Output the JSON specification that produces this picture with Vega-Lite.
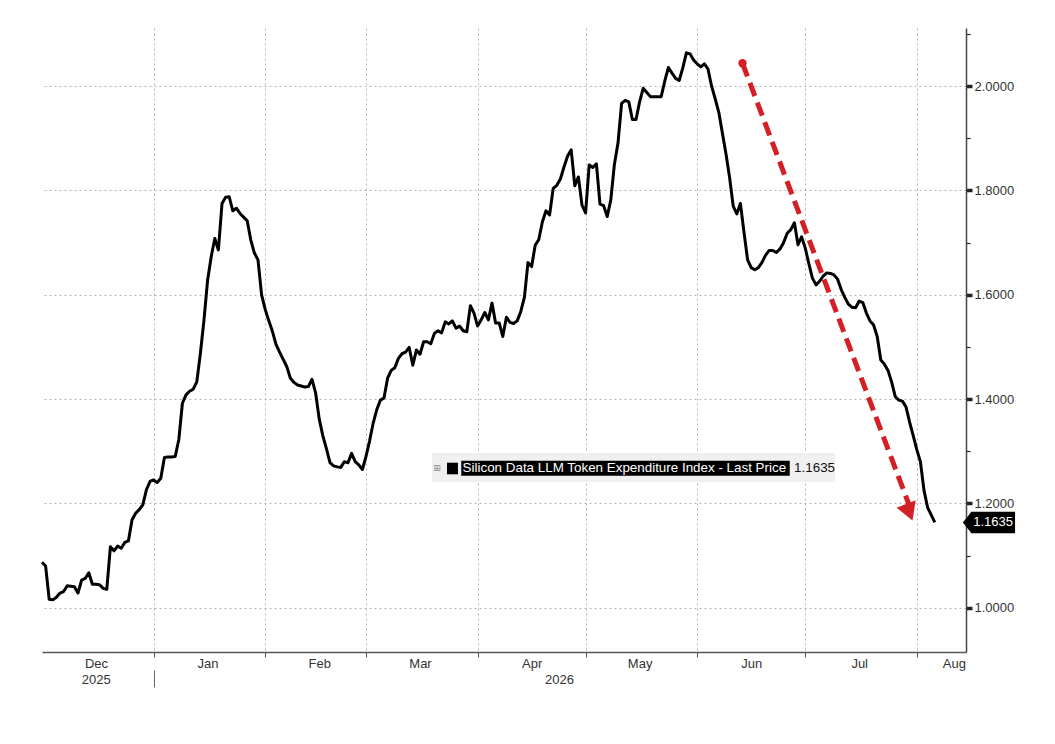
{
  "$schema": "https://vega.github.io/schema/vega-lite/v6.json",
  "width": 924,
  "height": 624,
  "padding": {"left": 40, "top": 28, "right": 0, "bottom": 0},
  "background": "white",
  "config": {
    "view": {"stroke": null},
    "font": "Liberation Sans",
    "axis": {"labelFont": "Liberation Sans", "labelFontSize": 13, "labelColor": "#333333"}
  },
  "datasets": {
    "series": [
      {"date": "2025-12-01", "value": 1.087}, {"date": "2025-12-02", "value": 1.080}, {"date": "2025-12-03", "value": 1.016},
      {"date": "2025-12-04", "value": 1.015}, {"date": "2025-12-05", "value": 1.020}, {"date": "2025-12-06", "value": 1.028},
      {"date": "2025-12-07", "value": 1.031}, {"date": "2025-12-08", "value": 1.042}, {"date": "2025-12-09", "value": 1.041},
      {"date": "2025-12-10", "value": 1.040}, {"date": "2025-12-11", "value": 1.028}, {"date": "2025-12-12", "value": 1.053},
      {"date": "2025-12-13", "value": 1.056}, {"date": "2025-12-14", "value": 1.067}, {"date": "2025-12-15", "value": 1.045},
      {"date": "2025-12-16", "value": 1.045}, {"date": "2025-12-17", "value": 1.044}, {"date": "2025-12-18", "value": 1.037},
      {"date": "2025-12-19", "value": 1.035}, {"date": "2025-12-20", "value": 1.117}, {"date": "2025-12-21", "value": 1.109},
      {"date": "2025-12-22", "value": 1.118}, {"date": "2025-12-23", "value": 1.114}, {"date": "2025-12-24", "value": 1.125},
      {"date": "2025-12-25", "value": 1.128}, {"date": "2025-12-26", "value": 1.168}, {"date": "2025-12-27", "value": 1.181},
      {"date": "2025-12-28", "value": 1.188}, {"date": "2025-12-29", "value": 1.197}, {"date": "2025-12-30", "value": 1.226},
      {"date": "2025-12-31", "value": 1.242},
      {"date": "2026-01-01", "value": 1.245}, {"date": "2026-01-02", "value": 1.240}, {"date": "2026-01-03", "value": 1.248},
      {"date": "2026-01-04", "value": 1.288}, {"date": "2026-01-05", "value": 1.289}, {"date": "2026-01-06", "value": 1.289},
      {"date": "2026-01-07", "value": 1.290}, {"date": "2026-01-08", "value": 1.322}, {"date": "2026-01-09", "value": 1.392},
      {"date": "2026-01-10", "value": 1.408}, {"date": "2026-01-11", "value": 1.415}, {"date": "2026-01-12", "value": 1.419},
      {"date": "2026-01-13", "value": 1.433}, {"date": "2026-01-14", "value": 1.488}, {"date": "2026-01-15", "value": 1.552},
      {"date": "2026-01-16", "value": 1.628}, {"date": "2026-01-17", "value": 1.673}, {"date": "2026-01-18", "value": 1.708},
      {"date": "2026-01-19", "value": 1.686}, {"date": "2026-01-20", "value": 1.775}, {"date": "2026-01-21", "value": 1.787},
      {"date": "2026-01-22", "value": 1.788}, {"date": "2026-01-23", "value": 1.761}, {"date": "2026-01-24", "value": 1.766},
      {"date": "2026-01-25", "value": 1.756}, {"date": "2026-01-26", "value": 1.749}, {"date": "2026-01-27", "value": 1.742},
      {"date": "2026-01-28", "value": 1.705}, {"date": "2026-01-29", "value": 1.680}, {"date": "2026-01-30", "value": 1.667},
      {"date": "2026-01-31", "value": 1.600},
      {"date": "2026-02-01", "value": 1.572}, {"date": "2026-02-02", "value": 1.550}, {"date": "2026-02-03", "value": 1.530},
      {"date": "2026-02-04", "value": 1.505}, {"date": "2026-02-05", "value": 1.490}, {"date": "2026-02-06", "value": 1.476},
      {"date": "2026-02-07", "value": 1.462}, {"date": "2026-02-08", "value": 1.440}, {"date": "2026-02-09", "value": 1.432},
      {"date": "2026-02-10", "value": 1.427}, {"date": "2026-02-11", "value": 1.425}, {"date": "2026-02-12", "value": 1.423},
      {"date": "2026-02-13", "value": 1.424}, {"date": "2026-02-14", "value": 1.438}, {"date": "2026-02-15", "value": 1.412},
      {"date": "2026-02-16", "value": 1.362}, {"date": "2026-02-17", "value": 1.330}, {"date": "2026-02-18", "value": 1.305},
      {"date": "2026-02-19", "value": 1.278}, {"date": "2026-02-20", "value": 1.272}, {"date": "2026-02-21", "value": 1.270},
      {"date": "2026-02-22", "value": 1.269}, {"date": "2026-02-23", "value": 1.280}, {"date": "2026-02-24", "value": 1.278},
      {"date": "2026-02-25", "value": 1.296}, {"date": "2026-02-26", "value": 1.280}, {"date": "2026-02-27", "value": 1.274},
      {"date": "2026-02-28", "value": 1.265},
      {"date": "2026-03-01", "value": 1.290}, {"date": "2026-03-02", "value": 1.320}, {"date": "2026-03-03", "value": 1.354},
      {"date": "2026-03-04", "value": 1.380}, {"date": "2026-03-05", "value": 1.398}, {"date": "2026-03-06", "value": 1.402},
      {"date": "2026-03-07", "value": 1.440}, {"date": "2026-03-08", "value": 1.455}, {"date": "2026-03-09", "value": 1.460},
      {"date": "2026-03-10", "value": 1.478}, {"date": "2026-03-11", "value": 1.487}, {"date": "2026-03-12", "value": 1.490},
      {"date": "2026-03-13", "value": 1.499}, {"date": "2026-03-14", "value": 1.465}, {"date": "2026-03-15", "value": 1.494},
      {"date": "2026-03-16", "value": 1.486}, {"date": "2026-03-17", "value": 1.510}, {"date": "2026-03-18", "value": 1.510},
      {"date": "2026-03-19", "value": 1.506}, {"date": "2026-03-20", "value": 1.526}, {"date": "2026-03-21", "value": 1.531},
      {"date": "2026-03-22", "value": 1.527}, {"date": "2026-03-23", "value": 1.548}, {"date": "2026-03-24", "value": 1.544},
      {"date": "2026-03-25", "value": 1.550}, {"date": "2026-03-26", "value": 1.536}, {"date": "2026-03-27", "value": 1.540},
      {"date": "2026-03-28", "value": 1.531}, {"date": "2026-03-29", "value": 1.529}, {"date": "2026-03-30", "value": 1.579},
      {"date": "2026-03-31", "value": 1.565},
      {"date": "2026-04-01", "value": 1.540}, {"date": "2026-04-02", "value": 1.552}, {"date": "2026-04-03", "value": 1.566},
      {"date": "2026-04-04", "value": 1.552}, {"date": "2026-04-05", "value": 1.584}, {"date": "2026-04-06", "value": 1.546},
      {"date": "2026-04-07", "value": 1.546}, {"date": "2026-04-08", "value": 1.520}, {"date": "2026-04-09", "value": 1.557},
      {"date": "2026-04-10", "value": 1.547}, {"date": "2026-04-11", "value": 1.545}, {"date": "2026-04-12", "value": 1.550},
      {"date": "2026-04-13", "value": 1.568}, {"date": "2026-04-14", "value": 1.595}, {"date": "2026-04-15", "value": 1.662},
      {"date": "2026-04-16", "value": 1.654}, {"date": "2026-04-17", "value": 1.695}, {"date": "2026-04-18", "value": 1.706},
      {"date": "2026-04-19", "value": 1.740}, {"date": "2026-04-20", "value": 1.761}, {"date": "2026-04-21", "value": 1.753},
      {"date": "2026-04-22", "value": 1.804}, {"date": "2026-04-23", "value": 1.810}, {"date": "2026-04-24", "value": 1.822},
      {"date": "2026-04-25", "value": 1.845}, {"date": "2026-04-26", "value": 1.866}, {"date": "2026-04-27", "value": 1.878},
      {"date": "2026-04-28", "value": 1.809}, {"date": "2026-04-29", "value": 1.826}, {"date": "2026-04-30", "value": 1.772},
      {"date": "2026-05-01", "value": 1.757}, {"date": "2026-05-02", "value": 1.849}, {"date": "2026-05-03", "value": 1.844},
      {"date": "2026-05-04", "value": 1.851}, {"date": "2026-05-05", "value": 1.774}, {"date": "2026-05-06", "value": 1.771},
      {"date": "2026-05-07", "value": 1.750}, {"date": "2026-05-08", "value": 1.782}, {"date": "2026-05-09", "value": 1.850},
      {"date": "2026-05-10", "value": 1.891}, {"date": "2026-05-11", "value": 1.967}, {"date": "2026-05-12", "value": 1.973},
      {"date": "2026-05-13", "value": 1.970}, {"date": "2026-05-14", "value": 1.936}, {"date": "2026-05-15", "value": 1.936},
      {"date": "2026-05-16", "value": 1.970}, {"date": "2026-05-17", "value": 1.996}, {"date": "2026-05-18", "value": 1.988},
      {"date": "2026-05-19", "value": 1.980}, {"date": "2026-05-20", "value": 1.980}, {"date": "2026-05-21", "value": 1.980},
      {"date": "2026-05-22", "value": 1.980}, {"date": "2026-05-23", "value": 2.010}, {"date": "2026-05-24", "value": 2.036},
      {"date": "2026-05-25", "value": 2.025}, {"date": "2026-05-26", "value": 2.015}, {"date": "2026-05-27", "value": 2.011},
      {"date": "2026-05-28", "value": 2.035}, {"date": "2026-05-29", "value": 2.064}, {"date": "2026-05-30", "value": 2.062},
      {"date": "2026-05-31", "value": 2.050},
      {"date": "2026-06-01", "value": 2.043}, {"date": "2026-06-02", "value": 2.037}, {"date": "2026-06-03", "value": 2.043},
      {"date": "2026-06-04", "value": 2.033}, {"date": "2026-06-05", "value": 2.000}, {"date": "2026-06-06", "value": 1.976},
      {"date": "2026-06-07", "value": 1.950}, {"date": "2026-06-08", "value": 1.910}, {"date": "2026-06-09", "value": 1.870},
      {"date": "2026-06-10", "value": 1.825}, {"date": "2026-06-11", "value": 1.770}, {"date": "2026-06-12", "value": 1.755},
      {"date": "2026-06-13", "value": 1.775}, {"date": "2026-06-14", "value": 1.720}, {"date": "2026-06-15", "value": 1.667},
      {"date": "2026-06-16", "value": 1.652}, {"date": "2026-06-17", "value": 1.648}, {"date": "2026-06-18", "value": 1.652},
      {"date": "2026-06-19", "value": 1.662}, {"date": "2026-06-20", "value": 1.676}, {"date": "2026-06-21", "value": 1.685},
      {"date": "2026-06-22", "value": 1.685}, {"date": "2026-06-23", "value": 1.681}, {"date": "2026-06-24", "value": 1.688},
      {"date": "2026-06-25", "value": 1.700}, {"date": "2026-06-26", "value": 1.718}, {"date": "2026-06-27", "value": 1.725},
      {"date": "2026-06-28", "value": 1.738}, {"date": "2026-06-29", "value": 1.696}, {"date": "2026-06-30", "value": 1.711},
      {"date": "2026-07-01", "value": 1.690}, {"date": "2026-07-02", "value": 1.660}, {"date": "2026-07-03", "value": 1.632},
      {"date": "2026-07-04", "value": 1.619}, {"date": "2026-07-05", "value": 1.626}, {"date": "2026-07-06", "value": 1.636},
      {"date": "2026-07-07", "value": 1.642}, {"date": "2026-07-08", "value": 1.641}, {"date": "2026-07-09", "value": 1.638},
      {"date": "2026-07-10", "value": 1.630}, {"date": "2026-07-11", "value": 1.610}, {"date": "2026-07-12", "value": 1.595},
      {"date": "2026-07-13", "value": 1.582}, {"date": "2026-07-14", "value": 1.576}, {"date": "2026-07-15", "value": 1.575},
      {"date": "2026-07-16", "value": 1.588}, {"date": "2026-07-17", "value": 1.585}, {"date": "2026-07-18", "value": 1.565},
      {"date": "2026-07-19", "value": 1.550}, {"date": "2026-07-20", "value": 1.542}, {"date": "2026-07-21", "value": 1.520},
      {"date": "2026-07-22", "value": 1.475}, {"date": "2026-07-23", "value": 1.467}, {"date": "2026-07-24", "value": 1.455},
      {"date": "2026-07-25", "value": 1.433}, {"date": "2026-07-26", "value": 1.405}, {"date": "2026-07-27", "value": 1.398},
      {"date": "2026-07-28", "value": 1.396}, {"date": "2026-07-29", "value": 1.385}, {"date": "2026-07-30", "value": 1.356},
      {"date": "2026-07-31", "value": 1.330},
      {"date": "2026-08-01", "value": 1.303}, {"date": "2026-08-02", "value": 1.280}, {"date": "2026-08-03", "value": 1.225},
      {"date": "2026-08-04", "value": 1.192}, {"date": "2026-08-05", "value": 1.178}, {"date": "2026-08-06", "value": 1.1635}
    ],
    "arrow": [
      {"date": "2026-06-13T14:00:00Z", "value": 2.044},
      {"date": "2026-07-29T18:00:00Z", "value": 1.199}
    ],
    "arrowStart": [{"date": "2026-06-13T14:00:00Z", "value": 2.044}],
    "arrowHead": [{"date": "2026-07-29T22:00:00Z", "value": 1.183}],
    "legendBox": [{"date": "2026-03-19T08:00:00Z", "date2": "2026-07-09T07:00:00Z", "value": 1.2966, "value2": 1.2410}],
    "legendDark": [
      {"date": "2026-03-27T11:00:00Z", "date2": "2026-06-26T17:00:00Z", "value": 1.2819, "value2": 1.2531},
      {"date": "2026-03-23T12:00:00Z", "date2": "2026-03-26T13:00:00Z", "value": 1.2780, "value2": 1.2558}
    ],
    "legendName": [{"date": "2026-03-27T20:00:00Z", "value": 1.2675, "label": "Silicon Data LLM Token Expenditure Index - Last Price"}],
    "legendValue": [{"date": "2026-06-27T22:00:00Z", "value": 1.2675, "label": "1.1635"}],
    "legendIcon": [{"date": "2026-03-20T17:00:00Z", "value": 1.2675, "label": "⊞"}],
    "tagBox": [{"date": "2026-08-16T01:00:00Z", "date2": "2026-08-28T07:00:00Z", "value": 1.1841, "value2": 1.1427}],
    "tagPoint": [{"date": "2026-08-14T23:00:00Z", "value": 1.1635}],
    "tagText": [{"date": "2026-08-22T05:00:00Z", "value": 1.1635, "label": "1.1635"}]
  },
  "resolve": {"axis": {"x": "independent", "y": "independent"}},
  "layer": [
    {
      "data": {"name": "legendBox"},
      "mark": {"type": "rect", "color": "#f0f0f0"},
      "encoding": {
        "x": {"field": "date", "type": "temporal", "scale": {"type": "utc"}, "axis": null},
        "x2": {"field": "date2"},
        "y": {"field": "value", "type": "quantitative", "axis": null},
        "y2": {"field": "value2"}
      }
    },
    {
      "data": {"name": "legendDark"},
      "mark": {"type": "rect", "color": "#000000"},
      "encoding": {
        "x": {"field": "date", "type": "temporal", "scale": {"type": "utc"}, "axis": null},
        "x2": {"field": "date2"},
        "y": {"field": "value", "type": "quantitative", "axis": null},
        "y2": {"field": "value2"}
      }
    },
    {
      "data": {"name": "legendName"},
      "mark": {"type": "text", "align": "left", "baseline": "middle", "font": "Liberation Sans", "fontSize": 13.4, "color": "white"},
      "encoding": {
        "x": {"field": "date", "type": "temporal", "scale": {"type": "utc"}, "axis": null},
        "y": {"field": "value", "type": "quantitative", "axis": null},
        "text": {"field": "label"}
      }
    },
    {
      "data": {"name": "legendValue"},
      "mark": {"type": "text", "align": "left", "baseline": "middle", "font": "Liberation Sans", "fontSize": 13.4, "color": "#111111"},
      "encoding": {
        "x": {"field": "date", "type": "temporal", "scale": {"type": "utc"}, "axis": null},
        "y": {"field": "value", "type": "quantitative", "axis": null},
        "text": {"field": "label"}
      }
    },
    {
      "data": {"name": "legendIcon"},
      "mark": {"type": "text", "align": "center", "baseline": "middle", "font": "DejaVu Sans", "fontSize": 9, "color": "#888888"},
      "encoding": {
        "x": {"field": "date", "type": "temporal", "scale": {"type": "utc"}, "axis": null},
        "y": {"field": "value", "type": "quantitative", "axis": null},
        "text": {"field": "label"}
      }
    },
    {
      "data": {"name": "series"},
      "mark": {"type": "line", "color": "#000000", "strokeWidth": 3, "strokeJoin": "round"},
      "encoding": {
        "x": {
          "field": "date",
          "type": "temporal",
          "scale": {
            "type": "utc",
            "nice": false,
            "domain": [
              {"year": 2025, "month": 12, "date": 1, "utc": true},
              {"year": 2026, "month": 8, "date": 14, "hours": 16, "utc": true}
            ]
          },
          "axis": {
            "orient": "bottom",
            "title": null,
            "values": [
              {"year": 2025, "month": 12, "date": 1, "utc": true},
              {"year": 2026, "month": 1, "date": 1, "utc": true},
              {"year": 2026, "month": 2, "date": 1, "utc": true},
              {"year": 2026, "month": 3, "date": 1, "utc": true},
              {"year": 2026, "month": 4, "date": 1, "utc": true},
              {"year": 2026, "month": 5, "date": 1, "utc": true},
              {"year": 2026, "month": 6, "date": 1, "utc": true},
              {"year": 2026, "month": 7, "date": 1, "utc": true},
              {"year": 2026, "month": 8, "date": 1, "utc": true}
            ],
            "labelExpr": "utcFormat(datum.value, '%b')",
            "labelAlign": "center",
            "labelOffset": {"condition": {"test": "utcmonth(datum.value) == 7", "value": 37}, "value": 54},
            "labelFlush": false,
            "labelOverlap": false,
            "labelBound": false,
            "labelPadding": 0,
            "tickSize": 5,
            "tickColor": "#555555",
            "tickOpacity": {"condition": {"test": "utcmonth(datum.value) == 11", "value": 0}, "value": 1},
            "grid": true,
            "gridColor": "#b3b3b3",
            "gridDash": [2, 3],
            "gridOpacity": {"condition": {"test": "utcmonth(datum.value) == 11", "value": 0}, "value": 1},
            "domainColor": "#555555",
            "domainWidth": 1.5
          }
        },
        "y": {
          "field": "value",
          "type": "quantitative",
          "scale": {"domain": [0.915, 2.1116], "nice": false, "zero": false},
          "axis": {
            "orient": "right",
            "title": null,
            "values": [1.0, 1.1, 1.2, 1.3, 1.4, 1.5, 1.6, 1.7, 1.8, 1.9, 2.0, 2.1],
            "labelExpr": "round(datum.value * 10) % 2 == 0 ? format(datum.value, '.4f') : ''",
            "labelPadding": 2,
            "labelFlush": false,
            "tickColor": "#222222",
            "tickSize": {"condition": {"test": "round(datum.value * 10) % 2 == 1", "value": 4}, "value": 6},
            "tickWidth": {"condition": {"test": "round(datum.value * 10) % 2 == 1", "value": 1.2}, "value": 3.5},
            "grid": true,
            "gridColor": "#b3b3b3",
            "gridDash": [2, 3],
            "gridOpacity": {"condition": {"test": "round(datum.value * 10) % 2 == 1", "value": 0}, "value": 1},
            "domainColor": "#444444",
            "domainWidth": 1.5
          }
        }
      }
    },
    {
      "data": {"name": "arrow"},
      "mark": {"type": "line", "color": "#d41f26", "strokeWidth": 5, "strokeDash": [14, 7], "strokeCap": "butt"},
      "encoding": {
        "x": {
          "field": "date",
          "type": "temporal",
          "scale": {"type": "utc"},
          "axis": {
            "orient": "bottom",
            "title": null,
            "offset": 18,
            "values": [
              {"year": 2025, "month": 12, "date": 15, "hours": 22, "utc": true},
              {"year": 2026, "month": 1, "date": 1, "utc": true},
              {"year": 2026, "month": 4, "date": 23, "hours": 14, "utc": true}
            ],
            "labelExpr": "utcmonth(datum.value) == 0 ? '' : utcFormat(datum.value, '%Y')",
            "labelAlign": "center",
            "labelFlush": false,
            "labelOverlap": false,
            "labelBound": false,
            "labelPadding": -14,
            "domain": false,
            "grid": false,
            "tickSize": 17,
            "tickColor": "#666666",
            "tickOpacity": {"condition": {"test": "utcmonth(datum.value) == 0", "value": 1}, "value": 0}
          }
        },
        "y": {"field": "value", "type": "quantitative", "axis": null}
      }
    },
    {
      "data": {"name": "arrowStart"},
      "mark": {"type": "point", "shape": "circle", "filled": true, "opacity": 1, "color": "#d41f26", "size": 70},
      "encoding": {
        "x": {"field": "date", "type": "temporal", "scale": {"type": "utc"}, "axis": null},
        "y": {"field": "value", "type": "quantitative", "axis": null}
      }
    },
    {
      "data": {"name": "arrowHead"},
      "mark": {"type": "point", "shape": "triangle-down", "angle": 339, "filled": true, "opacity": 1, "color": "#d41f26", "size": 420},
      "encoding": {
        "x": {"field": "date", "type": "temporal", "scale": {"type": "utc"}, "axis": null},
        "y": {"field": "value", "type": "quantitative", "axis": null}
      }
    },
    {
      "data": {"name": "tagBox"},
      "mark": {"type": "rect", "color": "#000000"},
      "encoding": {
        "x": {"field": "date", "type": "temporal", "scale": {"type": "utc"}, "axis": null},
        "x2": {"field": "date2"},
        "y": {"field": "value", "type": "quantitative", "axis": null},
        "y2": {"field": "value2"}
      }
    },
    {
      "data": {"name": "tagPoint"},
      "mark": {"type": "point", "shape": "M 0.4 -1 L -0.4 0 L 0.4 1 Z", "filled": true, "opacity": 1, "color": "#000000", "size": 441},
      "encoding": {
        "x": {"field": "date", "type": "temporal", "scale": {"type": "utc"}, "axis": null},
        "y": {"field": "value", "type": "quantitative", "axis": null}
      }
    },
    {
      "data": {"name": "tagText"},
      "mark": {"type": "text", "align": "center", "baseline": "middle", "font": "Liberation Sans", "fontSize": 13, "color": "white"},
      "encoding": {
        "x": {"field": "date", "type": "temporal", "scale": {"type": "utc"}, "axis": null},
        "y": {"field": "value", "type": "quantitative", "axis": null},
        "text": {"field": "label"}
      }
    }
  ]
}
